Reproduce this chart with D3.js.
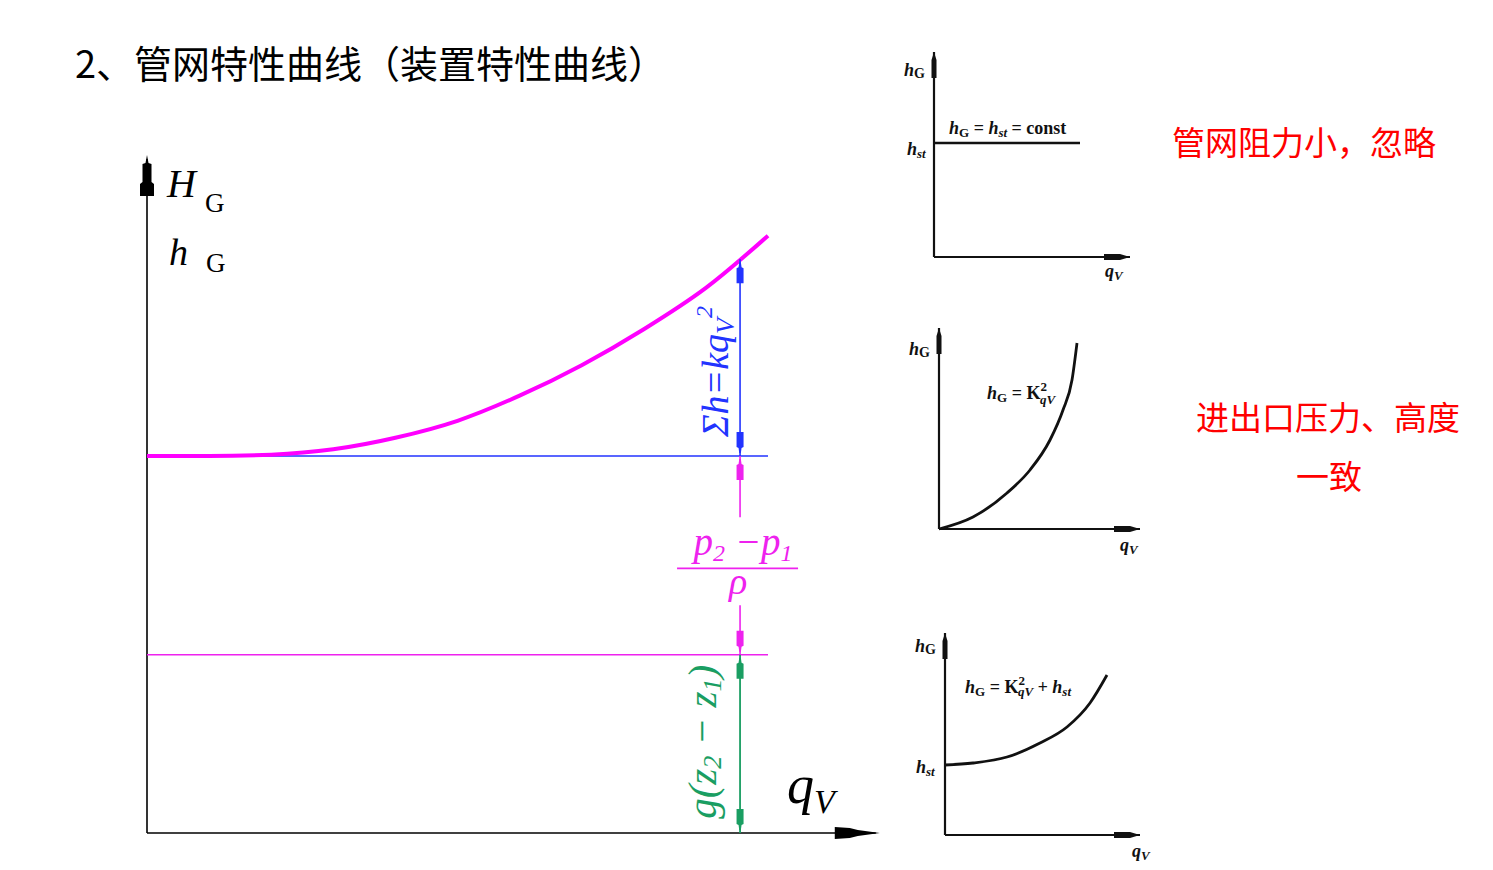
<!DOCTYPE html>
<html><head><meta charset="utf-8">
<script src="https://cdn.jsdelivr.net/npm/d3@7"></script>
<style>body{margin:0;background:#fff;} svg{display:block;}</style>
</head><body>
<script>
// ---------------- data ----------------
const titleText = "2、管网特性曲线（装置特性曲线）";
const noteLines = ["管网阻力小，忽略", "进出口压力、高度", "一致"];

// main chart: system curve h = static + k qV^2
const mainQ = [0, 1, 2, 3, 4, 5, 6, 7, 8, 9, 10];
const mainH = [55.6, 55.6, 55.8, 56.6, 58.3, 60.8, 64.5, 69.0, 74.3, 80.4, 88.1];
const staticZ = 26.3;   // g(z2 - z1)
const staticP = 29.3;   // (p2 - p1)/rho
const markQ = 9.55;     // q where the dimension line is drawn
const mainDomainQ = [0, 10];
const mainDomainH = [0, 100];
const mainAxisMaxQ = 11.8;

// small chart 1: hG = hst = const
const c1Hst = 5.7, c1End = 7.3, c1AxisQ = 9.8, c1AxisH = 10.25;
// small chart 2: hG = K qV^2
const c2Q = [0, 1.7, 3.4, 4.55, 5.55, 6.2, 6.65, 6.9];
const c2H = [0, 0.6, 1.8, 2.95, 4.45, 5.95, 7.45, 9.3];
const c2AxisQ = 10.05, c2AxisH = 10.05;
// small chart 3: hG = K qV^2 + hst
const c3Q = [0, 1.4, 3.1, 4.75, 6.1, 7.25, 8.1];
const c3H = [3.5, 3.6, 3.9, 4.6, 5.4, 6.6, 8.0];
const c3AxisQ = 9.75, c3AxisH = 10.1;

// ---------------- drawing ----------------
const W = 1493, H = 870;
const svg = d3.select("body").append("svg").attr("width", W).attr("height", H);
const CJK = "'Noto Sans CJK SC', 'Noto Sans', sans-serif";
const SERIF = "'Liberation Serif', 'DejaVu Serif', serif";

svg.append("text").attr("x", 75).attr("y", 78)
  .attr("font-family", CJK).attr("font-size", 38).attr("fill", "#000")
  .text(titleText);

const noteG = svg.append("g").attr("font-family", CJK).attr("font-size", 33).attr("fill", "#ff0000");
noteG.append("text").attr("x", 1172).attr("y", 155).text(noteLines[0]);
noteG.append("text").attr("x", 1196).attr("y", 430).text(noteLines[1]);
noteG.append("text").attr("x", 1296).attr("y", 489).text(noteLines[2]);

// main scales
const x = d3.scaleLinear().domain(mainDomainQ).range([147, 768]);
const y = d3.scaleLinear().domain(mainDomainH).range([833, 155]);
const hAt = d3.scaleLinear().domain(mainQ).range(mainH);

const mg = svg.append("g");
// axes
const x0 = x(0), y0 = y(0);
mg.append("line").attr("x1", x0).attr("y1", y0).attr("x2", x0).attr("y2", y(mainDomainH[1]) + 4)
  .attr("stroke", "#000").attr("stroke-width", 1.6);
mg.append("line").attr("x1", x0).attr("y1", y0).attr("x2", x(mainAxisMaxQ) - 4).attr("y2", y0)
  .attr("stroke", "#000").attr("stroke-width", 1.6);
{
  const t = y(mainDomainH[1]);
  mg.append("path").attr("fill", "#000").attr("d",
    `M${x0},${t} L${x0+1.5},${t+8} L${x0+4.5},${t+9} L${x0+4.5},${t+27} L${x0+7},${t+29} L${x0+7},${t+41}
     L${x0-7},${t+41} L${x0-7},${t+29} L${x0-4.5},${t+27} L${x0-4.5},${t+9} L${x0-1.5},${t+8} Z`);
  const r = x(mainAxisMaxQ);
  mg.append("path").attr("fill", "#000").attr("d",
    `M${r},${y0} L${r-22},${y0-3} L${r-30},${y0-5} L${r-45},${y0-6} L${r-45},${y0+6} L${r-30},${y0+5} L${r-22},${y0+3} Z`);
}

// static head lines
const hTot = staticZ + staticP;
mg.append("line").attr("x1", x0).attr("x2", x(mainDomainQ[1])).attr("y1", y(hTot)).attr("y2", y(hTot))
  .attr("stroke", "#2233ff").attr("stroke-width", 1.6);
mg.append("line").attr("x1", x0).attr("x2", x(mainDomainQ[1])).attr("y1", y(staticZ)).attr("y2", y(staticZ))
  .attr("stroke", "#ee22ee").attr("stroke-width", 1.6);

// system curve
mg.append("path").datum(mainQ.map((q, i) => [q, mainH[i]]))
  .attr("d", d3.line().x(d => x(d[0])).y(d => y(d[1])).curve(d3.curveMonotoneX))
  .attr("fill", "none").attr("stroke", "#ff00ff").attr("stroke-width", 4);

// dimension lines
const mx = x(markQ);
const yc = y(hAt(markQ)), yt = y(hTot), yz = y(staticZ), yb = y(0);
function dimArrow(xp, tip, s, color) { // s=+1 body below tip (points up), -1 points down
  const L = 24;
  mg.append("path").attr("fill", color).attr("d",
    `M${xp-0.8},${tip+s*3} L${xp+0.8},${tip+s*3} L${xp+1.5},${tip+s*8} L${xp+3.5},${tip+s*9} L${xp+3.5},${tip+s*L}
     L${xp-3.5},${tip+s*L} L${xp-3.5},${tip+s*9} L${xp-1.5},${tip+s*8} Z`);
}
const BLUE = "#2233ff", MAG = "#ee22ee", GRN = "#1a9e62";
mg.append("line").attr("x1", mx).attr("x2", mx).attr("y1", yc).attr("y2", yt).attr("stroke", BLUE).attr("stroke-width", 1.6);
dimArrow(mx, yc, 1, BLUE); dimArrow(mx, yt, -1, BLUE);
const fracMid = (yt + yz) / 2 + 6;
mg.append("line").attr("x1", mx).attr("x2", mx).attr("y1", yt).attr("y2", fracMid - 44).attr("stroke", MAG).attr("stroke-width", 1.6);
mg.append("line").attr("x1", mx).attr("x2", mx).attr("y1", fracMid + 44).attr("y2", yz).attr("stroke", MAG).attr("stroke-width", 1.6);
dimArrow(mx, yt, 1, MAG); dimArrow(mx, yz, -1, MAG);
mg.append("line").attr("x1", mx).attr("x2", mx).attr("y1", yz).attr("y2", yb).attr("stroke", GRN).attr("stroke-width", 1.8);
dimArrow(mx, yz, 1, GRN); dimArrow(mx, yb, -1, GRN);

// labels in main chart
const lab = mg.append("g").attr("font-family", SERIF).attr("font-style", "italic");
lab.append("text").attr("x", 167).attr("y", 197).attr("font-size", 40).text("H");
lab.append("text").attr("x", 205).attr("y", 212).attr("font-size", 27).attr("font-style", "normal").text("G");
lab.append("text").attr("x", 169).attr("y", 265).attr("font-size", 38).text("h");
lab.append("text").attr("x", 206).attr("y", 272).attr("font-size", 27).attr("font-style", "normal").text("G");

const t1 = lab.append("text").attr("transform", `translate(${mx-12},${(yc+yt)/2 + 14}) rotate(-90)`)
  .attr("text-anchor", "middle").attr("font-size", 38).attr("fill", BLUE);
t1.append("tspan").text("Σh=kq");
t1.append("tspan").attr("font-size", 26).attr("dy", 6).text("V");
t1.append("tspan").attr("font-size", 24).attr("dy", -22).text("2");

const t2 = lab.append("text").attr("x", mx + 3).attr("y", fracMid - 6).attr("text-anchor", "middle")
  .attr("font-size", 39).attr("fill", MAG);
t2.append("tspan").text("p");
t2.append("tspan").attr("font-size", 24).attr("dy", 6).text("2");
t2.append("tspan").attr("dy", -6).text(" −p");
t2.append("tspan").attr("font-size", 24).attr("dy", 6).text("1");
mg.append("line").attr("x1", mx - 63).attr("x2", mx + 58).attr("y1", fracMid + 7).attr("y2", fracMid + 7)
  .attr("stroke", MAG).attr("stroke-width", 1.8);
lab.append("text").attr("x", mx - 2).attr("y", fracMid + 33).attr("text-anchor", "middle")
  .attr("font-size", 38).attr("fill", MAG).text("ρ");

const t3 = lab.append("text").attr("transform", `translate(${mx-24},${(yz+yb)/2 - 2}) rotate(-90)`)
  .attr("text-anchor", "middle").attr("font-size", 41).attr("fill", GRN);
t3.append("tspan").text("g(z");
t3.append("tspan").attr("font-size", 26).attr("dy", 5).text("2");
t3.append("tspan").attr("dy", -5).text(" − z");
t3.append("tspan").attr("font-size", 26).attr("dy", 5).text("1");
t3.append("tspan").attr("dy", -5).text(")");

lab.append("text").attr("x", 787).attr("y", 803).attr("font-size", 54).text("q");
lab.append("text").attr("x", 814).attr("y", 813).attr("font-size", 34).text("V");

// ---------------- small charts ----------------
function smallChart(ox, oy, axQ, axH) {
  const sx = d3.scaleLinear().domain([0, 10]).range([ox, ox + 200]);
  const sy = d3.scaleLinear().domain([0, 10]).range([oy, oy - 200]);
  const g = svg.append("g");
  g.append("line").attr("x1", sx(0)).attr("y1", sy(0)).attr("x2", sx(0)).attr("y2", sy(axH))
    .attr("stroke", "#111").attr("stroke-width", 2.2);
  g.append("line").attr("x1", sx(0)).attr("y1", sy(0)).attr("x2", sx(axQ)).attr("y2", sy(0))
    .attr("stroke", "#111").attr("stroke-width", 2.2);
  const t = sy(axH), r = sx(axQ);
  g.append("path").attr("fill", "#111").attr("d",
    `M${ox},${t} L${ox+2.5},${t+8} L${ox+2.5},${t+26} L${ox-2.5},${t+26} L${ox-2.5},${t+8} Z`);
  g.append("path").attr("fill", "#111").attr("d",
    `M${r},${oy} L${r-10},${oy-3} L${r-26},${oy-3} L${r-26},${oy+3} L${r-10},${oy+3} Z`);
  return {sx, sy, g};
}
const curve = (sx, sy) => d3.line().x(d => sx(d[0])).y(d => sy(d[1])).curve(d3.curveMonotoneX);
function sLabel(g, xp, yp, parts, size) {
  const t = g.append("text").attr("x", xp).attr("y", yp).attr("font-family", SERIF)
    .attr("font-weight", "bold").attr("font-size", size || 18).attr("fill", "#111");
  parts.forEach(p => {
    const s = t.append("tspan").text(p.t);
    if (p.it !== false) s.attr("font-style", "italic");
    if (p.fs) s.attr("font-size", p.fs);
    if (p.dy) s.attr("dy", p.dy);
    if (p.dx) s.attr("dx", p.dx);
  });
  return t;
}

// chart 1
{
  const {sx, sy, g} = smallChart(934, 257, c1AxisQ, c1AxisH);
  g.append("line").attr("x1", sx(0)).attr("x2", sx(c1End)).attr("y1", sy(c1Hst)).attr("y2", sy(c1Hst))
    .attr("stroke", "#111").attr("stroke-width", 2.6);
  sLabel(g, 904, 76, [{t: "h"}, {t: "G", fs: 14, dy: 2, it: false}]);
  sLabel(g, 907, 155, [{t: "h"}, {t: "st", fs: 13, dy: 3}]);
  sLabel(g, 949, 134, [{t: "h"}, {t: "G", fs: 13, dy: 3, it: false}, {t: " = ", dy: -3, it: false},
    {t: "h"}, {t: "st", fs: 13, dy: 3}, {t: " = const", dy: -3, it: false}], 18);
  sLabel(g, 1105, 277, [{t: "q"}, {t: "V", fs: 13, dy: 3}]);
}
// chart 2
{
  const {sx, sy, g} = smallChart(939, 529, c2AxisQ, c2AxisH);
  g.append("path").datum(c2Q.map((q, i) => [q, c2H[i]])).attr("d", curve(sx, sy))
    .attr("fill", "none").attr("stroke", "#111").attr("stroke-width", 2.8);
  sLabel(g, 909, 355, [{t: "h"}, {t: "G", fs: 14, dy: 2, it: false}]);
  sLabel(g, 987, 399, [{t: "h"}, {t: "G", fs: 13, dy: 3, it: false}, {t: " = K", dy: -3, it: false},
    {t: "2", fs: 13, dy: -8, it: false}, {t: "qV", fs: 13, dx: -7, dy: 13}], 18);
  sLabel(g, 1120, 551, [{t: "q"}, {t: "V", fs: 13, dy: 3}]);
}
// chart 3
{
  const {sx, sy, g} = smallChart(945, 835, c3AxisQ, c3AxisH);
  g.append("path").datum(c3Q.map((q, i) => [q, c3H[i]])).attr("d", curve(sx, sy))
    .attr("fill", "none").attr("stroke", "#111").attr("stroke-width", 2.8);
  sLabel(g, 915, 652, [{t: "h"}, {t: "G", fs: 14, dy: 2, it: false}]);
  sLabel(g, 916, 773, [{t: "h"}, {t: "st", fs: 13, dy: 3}]);
  sLabel(g, 965, 693, [{t: "h"}, {t: "G", fs: 13, dy: 3, it: false}, {t: " = K", dy: -3, it: false},
    {t: "2", fs: 13, dy: -8, it: false}, {t: "qV", fs: 13, dx: -7, dy: 11}, {t: " + h", dy: -3}, {t: "st", fs: 13, dy: 3}], 18);
  sLabel(g, 1132, 857, [{t: "q"}, {t: "V", fs: 13, dy: 3}]);
}
</script>
</body></html>
